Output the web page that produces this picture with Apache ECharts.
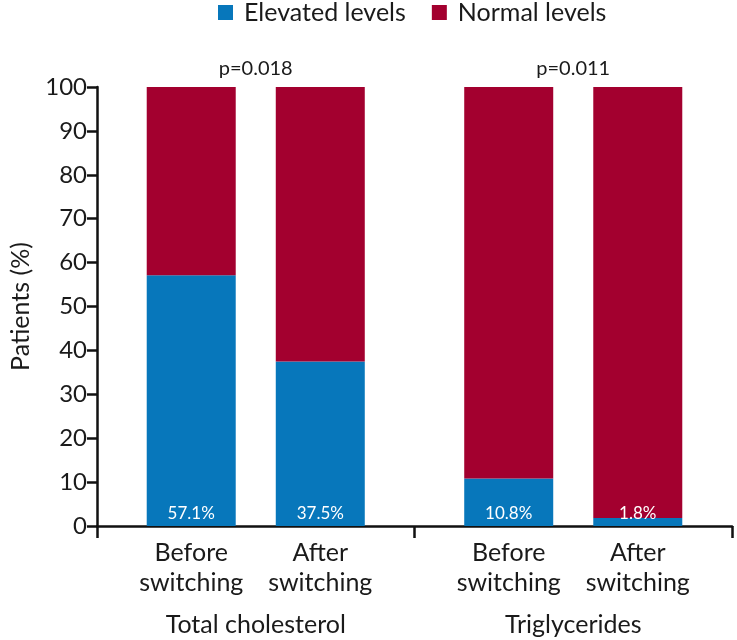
<!DOCTYPE html>
<html>
<head>
<meta charset="utf-8">
<script src="https://cdn.jsdelivr.net/npm/echarts@6/dist/echarts.min.js"></script>
<style>
html,body{margin:0;padding:0;background:#fff;}
#chart{width:737px;height:640px;}
</style>
</head>
<body>
<div id="chart"></div>
<script>
var groups = ['Total cholesterol', 'Triglycerides'];
var subgroups = ['Before switching', 'After switching'];
var pValues = ['p=0.018', 'p=0.011'];
var elevatedBefore = [57.1, 10.8];
var normalBefore = [42.9, 89.2];
var elevatedAfter = [37.5, 1.8];
var normalAfter = [62.5, 98.2];
var yTicks = { min: 0, max: 100, interval: 10 };

var FONT = 'Lato';
var BLUE = '#0777BB';
var RED = '#A3002F';
var INK = '#1a1a1a';

function splitWords(s) {
  var i = s.indexOf(' ');
  return [s.slice(0, i), s.slice(i + 1)];
}

var chart = echarts.init(document.getElementById('chart'), null, { renderer: 'canvas' });

var elevLabel = {
  show: true,
  position: 'insideBottom',
  distance: 4,
  color: '#fff',
  fontFamily: FONT,
  fontSize: 17,
  formatter: '{c}%'
};

chart.setOption({
  animation: false,
  textStyle: { fontFamily: FONT },
  legend: {
    top: 0,
    left: 218,
    padding: 0,
    itemWidth: 15,
    itemHeight: 15,
    itemGap: 26,
    icon: 'rect',
    textStyle: { fontSize: 25, color: INK, fontFamily: FONT, padding: [0, 0, 0, 6] },
    data: ['Elevated levels', 'Normal levels']
  },
  grid: { left: 87, right: 5, top: 87, bottom: 114, containLabel: false },
  xAxis: [{
    type: 'category',
    data: groups,
    position: 'bottom',
    axisLine: { lineStyle: { color: '#111', width: 2.5 } },
    axisTick: { show: true, length: 12, interval: 0, lineStyle: { color: '#111', width: 2.5 } },
    axisLabel: {
      interval: 0,
      margin: 12,
      formatter: function (v) {
        var a = splitWords(subgroups[0]);
        var b = splitWords(subgroups[1]);
        return '{s|' + a[0] + '}{s|' + b[0] + '}\n{s|' + a[1] + '}{s|' + b[1] + '}\n{g|' + v + '}';
      },
      rich: {
        s: { width: 129, align: 'center', fontSize: 25, lineHeight: 30, color: INK, fontFamily: FONT },
        g: { align: 'center', fontSize: 25, lineHeight: 54, color: INK, fontFamily: FONT }
      }
    }
  }, {
    type: 'category',
    data: groups,
    position: 'top',
    axisLine: { show: false },
    axisTick: { show: false },
    axisLabel: {
      interval: 0,
      margin: 8,
      fontSize: 20,
      color: INK,
      fontFamily: FONT,
      formatter: function (v, i) { return pValues[i]; }
    }
  }],
  yAxis: {
    type: 'value',
    min: yTicks.min,
    max: yTicks.max,
    interval: yTicks.interval,
    name: 'Patients (%)',
    nameLocation: 'middle',
    nameRotate: 90,
    nameGap: 64,
    nameTextStyle: { fontSize: 25, color: INK, fontFamily: FONT },
    splitLine: { show: false },
    axisLine: { show: true, lineStyle: { color: '#111', width: 2.5 } },
    axisTick: { show: true, length: 10, lineStyle: { color: '#111', width: 2.5 } },
    axisLabel: { fontSize: 24, color: INK, margin: 10, fontFamily: FONT }
  },
  series: [
    { name: 'Elevated levels', type: 'bar', stack: 'before', data: elevatedBefore, barWidth: 89,
      itemStyle: { color: BLUE }, label: elevLabel },
    { name: 'Normal levels', type: 'bar', stack: 'before', data: normalBefore, barWidth: 89,
      itemStyle: { color: RED } },
    { name: 'Elevated levels', type: 'bar', stack: 'after', data: elevatedAfter, barWidth: 89,
      itemStyle: { color: BLUE }, label: elevLabel },
    { name: 'Normal levels', type: 'bar', stack: 'after', data: normalAfter, barWidth: 89, barGap: '45%',
      itemStyle: { color: RED } }
  ]
});
</script>
</body>
</html>
